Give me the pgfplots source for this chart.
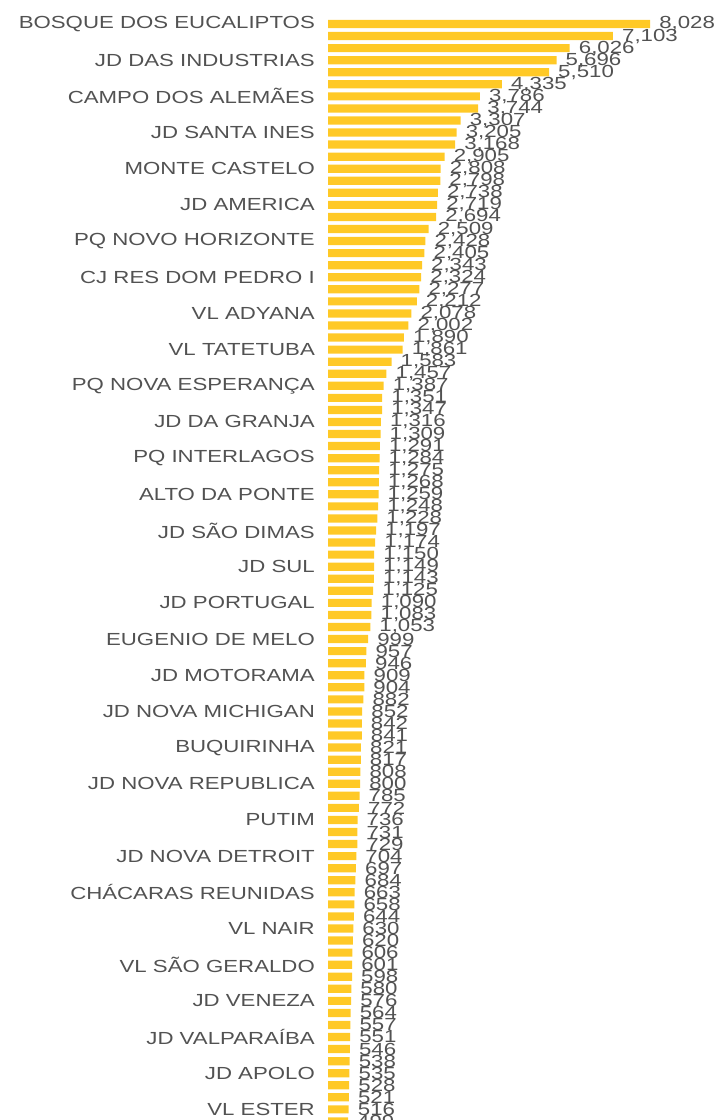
\documentclass[border=0pt]{standalone}
\usepackage{fontspec}
\setmainfont[FakeStretch=1.27]{Liberation Sans}
\usepackage{pgfplots}
\pgfplotsset{compat=1.18}
\definecolor{barc}{RGB}{255,201,38}
\definecolor{txt}{RGB}{82,82,82}
\begin{document}
\begin{tikzpicture}
\begin{axis}[name=ax, at={(0,0)}, anchor=south west,
  scale only axis, width=389pt, height=1121.6pt,
  xbar, bar width=8.2pt,
  xmin=0, xmax=9698, ymin=-1, ymax=92, y dir=reverse,
  enlargelimits=false, clip=false,
  axis line style={draw=none},
  xtick=\empty,
  ytick={0,3,...,90},
  yticklabels={BOSQUE DOS EUCALIPTOS,JD DAS INDUSTRIAS,CAMPO DOS ALEMÃES,JD SANTA INES,MONTE CASTELO,JD AMERICA,PQ NOVO HORIZONTE,CJ RES DOM PEDRO I,VL ADYANA,VL TATETUBA,PQ NOVA ESPERANÇA,JD DA GRANJA,PQ INTERLAGOS,ALTO DA PONTE,JD SÃO DIMAS,JD SUL,JD PORTUGAL,EUGENIO DE MELO,JD MOTORAMA,JD NOVA MICHIGAN,BUQUIRINHA,JD NOVA REPUBLICA,PUTIM,JD NOVA DETROIT,CHÁCARAS REUNIDAS,VL NAIR,VL SÃO GERALDO,JD VENEZA,JD VALPARAÍBA,JD APOLO,VL ESTER},
  major tick length=0pt,
  y tick label style={font=\fontsize{17.5}{18}\selectfont, text=txt, inner sep=0pt, xshift=-13pt},
  nodes near coords,
  nodes near coords style={font=\fontsize{17.5}{18}\selectfont, text=txt, anchor=west, inner sep=0pt, xshift=9pt},
  /pgf/number format/1000 sep={,},
  /pgf/number format/assume math mode=true,
]
\addplot[fill=barc, draw=none] coordinates {
(8028,0) (7103,1) (6026,2) (5696,3) (5510,4) (4335,5) (3786,6) (3744,7) (3307,8) (3205,9)
(3168,10) (2905,11) (2808,12) (2798,13) (2738,14) (2719,15) (2694,16) (2509,17) (2428,18) (2405,19)
(2343,20) (2324,21) (2277,22) (2212,23) (2078,24) (2002,25) (1890,26) (1861,27) (1583,28) (1457,29)
(1387,30) (1351,31) (1347,32) (1316,33) (1309,34) (1291,35) (1284,36) (1275,37) (1268,38) (1259,39)
(1248,40) (1228,41) (1197,42) (1174,43) (1150,44) (1149,45) (1143,46) (1125,47) (1090,48) (1083,49)
(1053,50) (999,51) (957,52) (946,53) (909,54) (904,55) (882,56) (852,57) (842,58) (841,59)
(821,60) (817,61) (808,62) (800,63) (785,64) (772,65) (736,66) (731,67) (729,68) (704,69)
(697,70) (684,71) (663,72) (658,73) (644,74) (630,75) (620,76) (606,77) (601,78) (598,79)
(580,80) (576,81) (564,82) (557,83) (551,84) (546,85) (538,86) (535,87) (528,88) (521,89)
(516,90) (499,91)
};
\end{axis}
\pgfresetboundingbox
\useasboundingbox ([xshift=-328pt,yshift=13.5pt]ax.south west) rectangle ([yshift=11.94pt]ax.north east);
\end{tikzpicture}
\end{document}
